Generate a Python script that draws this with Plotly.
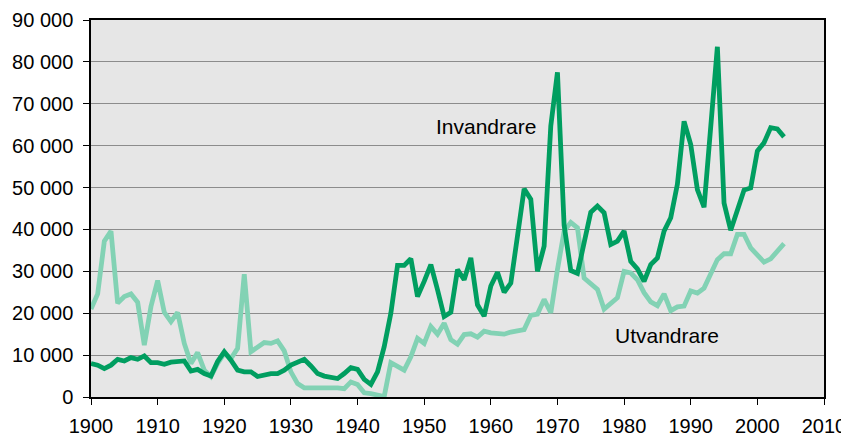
import plotly.graph_objects as go

years = list(range(1900, 2005))

invandrare = [
    8.0, 7.6, 6.8, 7.6, 9.0, 8.6, 9.4, 9.0, 9.8, 8.2,
    8.2, 7.8, 8.3, 8.4, 8.6, 6.2, 6.6, 5.6, 5.0, 8.5,
    10.8, 8.8, 6.4, 6.0, 6.0, 4.9, 5.3, 5.6, 5.6, 6.4,
    7.6, 8.4, 9.0, 7.4, 5.6, 5.0, 4.6, 4.4, 5.6, 7.0,
    6.6, 4.2, 3.0, 6.0, 12.0, 20.0, 31.4, 31.4, 33.0, 24.0,
    27.6, 31.6, 25.6, 19.2, 20.2, 30.4, 28.0, 33.2, 22.0, 19.3,
    26.5, 29.8, 25.0, 27.2, 38.4, 49.7, 47.2, 30.0, 36.0, 64.7,
    77.5, 41.0, 30.2, 29.5, 36.8, 44.1, 45.6, 44.0, 36.4, 37.2,
    39.6, 32.4, 30.6, 27.6, 31.6, 33.2, 39.6, 42.8, 50.8, 65.8,
    60.3, 49.5, 45.3, 63.0, 83.6, 46.3, 39.8, 44.6, 49.4, 49.9,
    58.7, 60.7, 64.3, 64.0, 62.1,
]

utvandrare = [
    21.0, 24.6, 37.2, 39.6, 22.4, 24.0, 24.6, 22.6, 12.4, 21.6,
    27.8, 20.2, 18.0, 20.2, 12.8, 8.0, 10.6, 6.4, 4.9, 8.0,
    10.4, 9.2, 11.6, 29.3, 10.8, 12.0, 13.0, 12.8, 13.4, 11.0,
    6.0, 3.2, 2.2, 2.2, 2.2, 2.2, 2.3, 2.2, 2.0, 3.6,
    3.0, 1.0, 0.8, 0.4, 0.1, 8.2, 7.2, 6.4, 9.6, 14.0,
    12.8, 16.8, 15.0, 17.6, 13.7, 12.6, 14.9, 15.1, 14.3, 15.7,
    15.3, 15.2, 15.0, 15.5, 15.9, 16.1, 19.5, 19.8, 23.3, 20.1,
    30.4, 39.6, 41.7, 40.4, 28.4, 27.2, 25.7, 21.0, 22.3, 23.7,
    30.0, 29.6, 28.0, 24.9, 22.7, 21.8, 24.6, 20.6, 21.5, 21.7,
    25.3, 24.8, 26.0, 29.6, 32.8, 34.2, 34.2, 38.8, 38.8, 35.6,
    34.0, 32.2, 33.0, 35.0, 36.6,
]

inv = [v * 1000 for v in invandrare]
utv = [v * 1000 for v in utvandrare]

y_ticks = list(range(0, 90001, 10000))
y_ticktext = ["0" if v == 0 else f"{v // 1000} 000" for v in y_ticks]
x_ticks = list(range(1900, 2011, 10))

FONT = "Liberation Sans, Arial, sans-serif"
DARK = "#009E60"
LIGHT = "#82D2B4"

fig = go.Figure()
fig.add_trace(go.Scatter(x=years, y=utv, mode="lines", name="Utvandrare",
                         line=dict(color=LIGHT, width=4.8)))
fig.add_trace(go.Scatter(x=years, y=inv, mode="lines", name="Invandrare",
                         line=dict(color=DARK, width=4.8)))

fig.add_annotation(x=1959.3, y=64600, text="Invandrare", showarrow=False,
                   font=dict(family=FONT, size=21, color="black"))
fig.add_annotation(x=1986.4, y=14700, text="Utvandrare", showarrow=False,
                   font=dict(family=FONT, size=21, color="black"))

# The page body has an 8px margin, so the figure is sized and offset to fit
fig.update_layout(
    width=841, height=429,
    margin=dict(l=83, r=25, t=12, b=40, autoexpand=False),
    paper_bgcolor="white",
    plot_bgcolor="#E6E6E6",
    showlegend=False,
    font=dict(family=FONT, size=20, color="black"),
)
fig.update_xaxes(
    range=[1900, 2010], tickvals=x_ticks, showgrid=False,
    showline=True, linecolor="black", linewidth=1.5, mirror=True,
    ticks="outside", ticklen=6, tickcolor="black", tickwidth=1,
    ticklabelstandoff=4, zeroline=False, automargin=False,
)
fig.update_yaxes(
    range=[0, 90000], tickvals=y_ticks, ticktext=y_ticktext,
    showgrid=True, gridcolor="#8C8C8C", gridwidth=1.3,
    showline=True, linecolor="black", linewidth=1.5, mirror=True,
    ticks="outside", ticklen=6, tickcolor="black", tickwidth=1,
    ticklabelstandoff=6, zeroline=False, automargin=False,
)

fig.write_html("out.html")
